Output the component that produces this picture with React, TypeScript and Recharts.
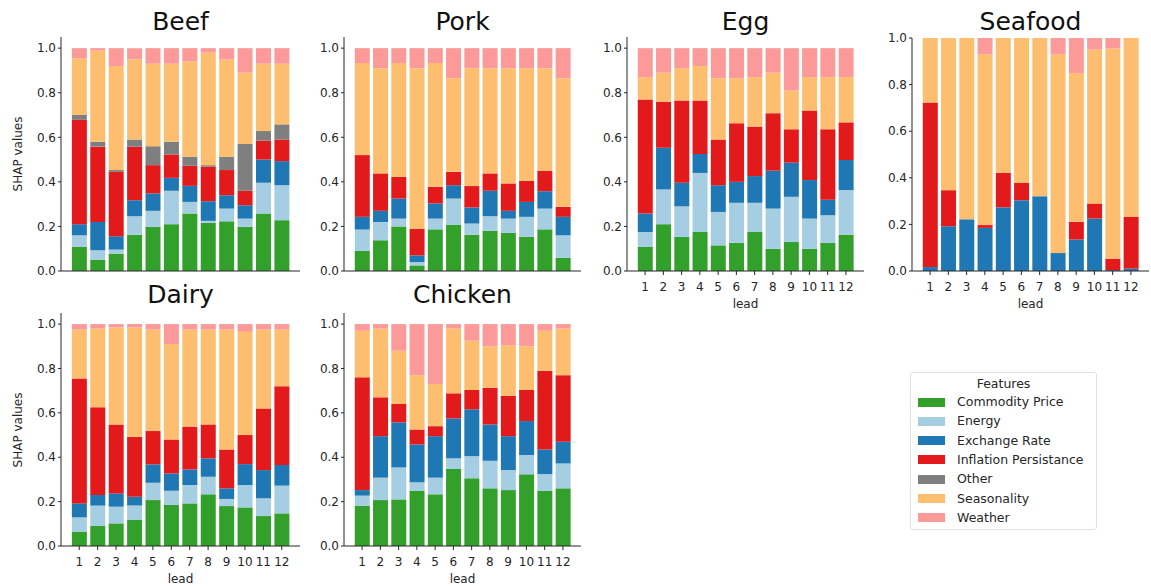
import React from 'react';
import { BarChart, Bar, XAxis, YAxis } from 'recharts';

const leads = ['1', '2', '3', '4', '5', '6', '7', '8', '9', '10', '11', '12'];

const features = [
  { key: 'commodity', name: 'Commodity Price', color: '#33a02c' },
  { key: 'energy', name: 'Energy', color: '#a6cee3' },
  { key: 'exchange', name: 'Exchange Rate', color: '#1f78b4' },
  { key: 'inflation', name: 'Inflation Persistance', color: '#e31a1c' },
  { key: 'other', name: 'Other', color: '#7f7f7f' },
  { key: 'seasonality', name: 'Seasonality', color: '#fdbf6f' },
  { key: 'weather', name: 'Weather', color: '#fb9a99' },
];

// share of SHAP value per feature, one entry per lead
const beef = {
  commodity: [0.108, 0.051, 0.078, 0.163, 0.198, 0.21, 0.258, 0.216, 0.223, 0.198, 0.258, 0.228],
  energy: [0.052, 0.042, 0.018, 0.083, 0.072, 0.15, 0.052, 0.009, 0.057, 0.037, 0.138, 0.157],
  exchange: [0.05, 0.127, 0.06, 0.072, 0.078, 0.058, 0.072, 0.088, 0.06, 0.06, 0.104, 0.108],
  inflation: [0.468, 0.338, 0.289, 0.24, 0.127, 0.105, 0.09, 0.155, 0.113, 0.065, 0.085, 0.097],
  other: [0.022, 0.022, 0.008, 0.032, 0.085, 0.057, 0.041, 0.007, 0.06, 0.21, 0.043, 0.068],
  seasonality: [0.255, 0.41, 0.467, 0.36, 0.37, 0.35, 0.427, 0.505, 0.437, 0.32, 0.302, 0.272],
  weather: [0.045, 0.01, 0.08, 0.05, 0.07, 0.07, 0.06, 0.02, 0.05, 0.11, 0.07, 0.07],
};

const pork = {
  commodity: [0.09, 0.138, 0.2, 0.025, 0.187, 0.208, 0.163, 0.18, 0.171, 0.153, 0.187, 0.06],
  energy: [0.096, 0.082, 0.035, 0.015, 0.048, 0.117, 0.05, 0.066, 0.064, 0.09, 0.093, 0.1],
  exchange: [0.057, 0.05, 0.09, 0.03, 0.068, 0.06, 0.072, 0.114, 0.035, 0.067, 0.078, 0.083],
  inflation: [0.277, 0.168, 0.098, 0.12, 0.075, 0.06, 0.096, 0.078, 0.123, 0.095, 0.092, 0.045],
  other: [0, 0, 0, 0, 0, 0, 0, 0, 0, 0, 0, 0],
  seasonality: [0.413, 0.472, 0.51, 0.72, 0.555, 0.42, 0.529, 0.472, 0.517, 0.505, 0.46, 0.577],
  weather: [0.067, 0.09, 0.067, 0.09, 0.067, 0.135, 0.09, 0.09, 0.09, 0.09, 0.09, 0.135],
};

const egg = {
  commodity: [0.108, 0.21, 0.153, 0.175, 0.115, 0.126, 0.175, 0.1, 0.13, 0.1, 0.126, 0.163],
  energy: [0.067, 0.156, 0.137, 0.265, 0.15, 0.18, 0.131, 0.18, 0.203, 0.135, 0.124, 0.2],
  exchange: [0.083, 0.187, 0.106, 0.085, 0.12, 0.094, 0.12, 0.17, 0.153, 0.173, 0.07, 0.135],
  inflation: [0.512, 0.207, 0.369, 0.24, 0.205, 0.263, 0.222, 0.258, 0.15, 0.312, 0.316, 0.169],
  other: [0, 0, 0, 0, 0, 0, 0, 0, 0, 0, 0, 0],
  seasonality: [0.1, 0.13, 0.145, 0.155, 0.275, 0.202, 0.222, 0.182, 0.174, 0.15, 0.234, 0.203],
  weather: [0.13, 0.11, 0.09, 0.08, 0.135, 0.135, 0.13, 0.11, 0.19, 0.13, 0.13, 0.13],
};

const seafood = {
  commodity: [0, 0, 0, 0, 0, 0, 0, 0, 0, 0, 0, 0],
  energy: [0, 0, 0, 0, 0, 0, 0, 0, 0, 0, 0, 0],
  exchange: [0.017, 0.192, 0.222, 0.185, 0.273, 0.304, 0.321, 0.077, 0.135, 0.225, 0.004, 0.01],
  inflation: [0.706, 0.155, 0, 0.012, 0.149, 0.075, 0, 0, 0.076, 0.065, 0.049, 0.222],
  other: [0, 0, 0, 0, 0, 0, 0, 0, 0, 0, 0, 0],
  seasonality: [0.277, 0.653, 0.778, 0.733, 0.578, 0.621, 0.679, 0.853, 0.639, 0.66, 0.902, 0.768],
  weather: [0, 0, 0, 0.07, 0, 0, 0, 0.07, 0.15, 0.05, 0.045, 0],
};

const dairy = {
  commodity: [0.065, 0.09, 0.102, 0.117, 0.207, 0.185, 0.192, 0.233, 0.18, 0.174, 0.135, 0.147],
  energy: [0.064, 0.092, 0.075, 0.065, 0.078, 0.064, 0.083, 0.079, 0.032, 0.101, 0.08, 0.125],
  exchange: [0.063, 0.048, 0.06, 0.04, 0.083, 0.078, 0.07, 0.083, 0.048, 0.094, 0.127, 0.093],
  inflation: [0.563, 0.395, 0.311, 0.27, 0.15, 0.153, 0.193, 0.153, 0.175, 0.131, 0.278, 0.355],
  other: [0, 0, 0, 0, 0, 0, 0, 0, 0, 0, 0, 0],
  seasonality: [0.22, 0.355, 0.437, 0.493, 0.457, 0.43, 0.437, 0.427, 0.54, 0.465, 0.355, 0.255],
  weather: [0.025, 0.02, 0.015, 0.015, 0.025, 0.09, 0.025, 0.025, 0.025, 0.035, 0.025, 0.025],
};

const chicken = {
  commodity: [0.182, 0.207, 0.21, 0.248, 0.233, 0.347, 0.305, 0.26, 0.252, 0.323, 0.248, 0.26],
  energy: [0.045, 0.101, 0.144, 0.039, 0.075, 0.048, 0.1, 0.124, 0.09, 0.087, 0.076, 0.112],
  exchange: [0.025, 0.187, 0.203, 0.171, 0.187, 0.18, 0.211, 0.164, 0.153, 0.153, 0.111, 0.098],
  inflation: [0.508, 0.175, 0.083, 0.067, 0.045, 0.113, 0.087, 0.165, 0.182, 0.14, 0.355, 0.3],
  other: [0, 0, 0, 0, 0, 0, 0, 0, 0, 0, 0, 0],
  seasonality: [0.21, 0.31, 0.24, 0.245, 0.19, 0.292, 0.222, 0.187, 0.228, 0.197, 0.18, 0.21],
  weather: [0.03, 0.02, 0.12, 0.23, 0.27, 0.02, 0.075, 0.1, 0.095, 0.1, 0.03, 0.02],
};

const yTicks = [0, 0.2, 0.4, 0.6, 0.8, 1.0];

const FONT = '"DejaVu Sans", Verdana, sans-serif';
const INK = '#262626';

type Values = Record<string, number[]>;

type PanelProps = {
  title: string;
  values: Values;
  left: number; // plot area, page pixels
  top: number;
  width: number;
  height: number;
  yMax: number;
  xLabels: boolean;
  yLabel: boolean;
};

const panels: PanelProps[] = [
  { title: 'Beef', values: beef, left: 61, top: 37, width: 239, height: 234, yMax: 1.05, xLabels: false, yLabel: true },
  { title: 'Pork', values: pork, left: 344, top: 37, width: 237, height: 234, yMax: 1.05, xLabels: false, yLabel: false },
  { title: 'Egg', values: egg, left: 627, top: 37, width: 237, height: 234, yMax: 1.05, xLabels: true, yLabel: false },
  { title: 'Seafood', values: seafood, left: 912, top: 38, width: 237, height: 233, yMax: 1.0, xLabels: true, yLabel: false },
  { title: 'Dairy', values: dairy, left: 61, top: 313, width: 239, height: 233, yMax: 1.05, xLabels: true, yLabel: true },
  { title: 'Chicken', values: chicken, left: 344, top: 313, width: 237, height: 233, yMax: 1.05, xLabels: true, yLabel: false },
];

const Panel = (p: PanelProps) => {
  const rows = leads.map((lead, i) => {
    const row: Record<string, string | number> = { lead };
    features.forEach((f) => {
      row[f.key] = p.values[f.key][i];
    });
    return row;
  });
  // matplotlib-style x margins: half a slot minus 1% on each side
  const pad = (p.width * 0.49) / 12.98;
  const cx = p.left + p.width / 2;
  const bottom = p.top + p.height;

  return (
    <>
      <div
        style={{
          position: 'absolute',
          left: cx - 100,
          width: 200,
          top: (p.top < 100 ? 21 : 294) - 14.5,
          lineHeight: '30px',
          fontSize: 25,
          textAlign: 'center',
          color: '#111',
        }}
      >
        {p.title}
      </div>
      <div style={{ position: 'absolute', left: p.left - 50, top: p.top - 10 }}>
        <BarChart
          width={p.width + 55}
          height={p.height + 50}
          data={rows}
          margin={{ top: 10, right: 5, bottom: 0, left: 10 }}
          barCategoryGap="10%"
          barGap={0}
        >
          <XAxis
            dataKey="lead"
            height={40}
            interval={0}
            padding={{ left: pad, right: pad }}
            axisLine={{ stroke: INK, strokeWidth: 1 }}
            tickLine={{ stroke: INK, strokeWidth: 1 }}
            tickSize={4}
            tickMargin={7.5}
            tick={p.xLabels ? { fill: INK, fontSize: 12, fontFamily: FONT } : false}
          />
          <YAxis
            width={40}
            type="number"
            domain={[0, p.yMax]}
            allowDataOverflow
            ticks={yTicks}
            tickFormatter={(v: number) => v.toFixed(1)}
            axisLine={{ stroke: INK, strokeWidth: 1 }}
            tickLine={{ stroke: INK, strokeWidth: 1 }}
            tickSize={3}
            tickMargin={2}
            tick={{ fill: INK, fontSize: 12, fontFamily: FONT }}
          />
          {features.map((f) => (
            <Bar key={f.key} dataKey={f.key} name={f.name} stackId="s" fill={f.color} isAnimationActive={false} />
          ))}
        </BarChart>
      </div>
      {p.xLabels && (
        <div
          style={{
            position: 'absolute',
            left: cx - 50,
            width: 100,
            top: bottom + 34 - 8,
            lineHeight: '14px',
            fontSize: 12,
            textAlign: 'center',
            color: INK,
          }}
        >
          lead
        </div>
      )}
      {p.yLabel && (
        <div
          style={{
            position: 'absolute',
            left: 17.5 - 60,
            width: 120,
            top: p.top + p.height / 2 - 7,
            height: 14,
            lineHeight: '14px',
            fontSize: 12,
            textAlign: 'center',
            color: INK,
            transform: 'rotate(-90deg)',
          }}
        >
          SHAP values
        </div>
      )}
    </>
  );
};

const FeatureLegend = () => (
  <div
    style={{
      position: 'absolute',
      left: 910,
      top: 372,
      width: 187,
      height: 158,
      border: '1px solid #e0e0e0',
      borderRadius: 3,
      boxSizing: 'border-box',
      background: '#fff',
      fontSize: 12.5,
      color: INK,
    }}
  >
    <div style={{ position: 'absolute', left: 0, right: 0, top: 3, lineHeight: '16px', textAlign: 'center' }}>
      Features
    </div>
    {features.map((f, i) => (
      <div key={f.key} style={{ position: 'absolute', left: 7, top: 21 + i * 19.3, height: 16, display: 'flex', alignItems: 'center' }}>
        <span style={{ display: 'inline-block', width: 27, height: 9, background: f.color, marginRight: 12 }} />
        <span style={{ lineHeight: '16px', whiteSpace: 'nowrap' }}>{f.name}</span>
      </div>
    ))}
  </div>
);

export default function App() {
  return (
    <div
      style={{
        position: 'absolute',
        left: 0,
        top: 0,
        width: 1151,
        height: 586,
        background: '#fff',
        fontFamily: FONT,
        overflow: 'hidden',
      }}
    >
      {panels.map((p) => (
        <Panel key={p.title} {...p} />
      ))}
      <FeatureLegend />
    </div>
  );
}
